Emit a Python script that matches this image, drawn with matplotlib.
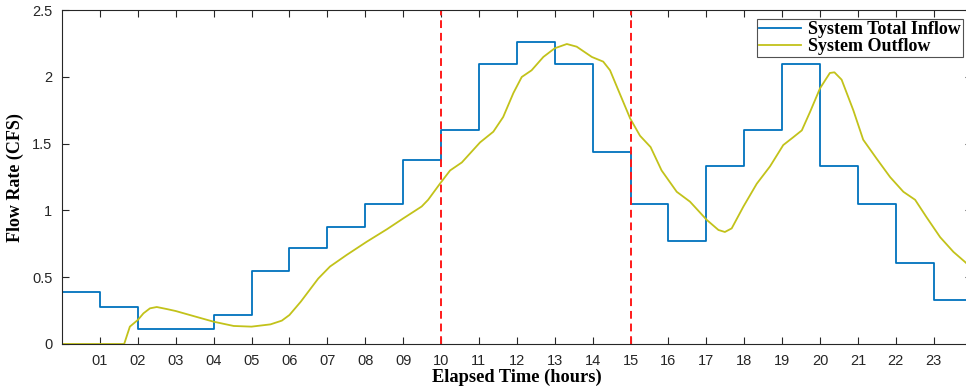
import numpy as np
import matplotlib.pyplot as plt

# hourly inflow steps (CFS), one value per hour 0-24
inflow_hours = list(range(0, 25))
inflow_vals = [0.39, 0.28, 0.11, 0.11, 0.22, 0.55, 0.72, 0.88, 1.05, 1.38,
               1.60, 2.10, 2.26, 2.10, 1.44, 1.05, 0.77, 1.33, 1.60, 2.10,
               1.33, 1.05, 0.61, 0.33, 0.33]

# outflow
outflow_t = [0, 1.0, 1.64, 1.79, 2.0, 2.15, 2.32, 2.5, 2.76, 3.0, 3.46, 4.0,
             4.53, 5.0, 5.5, 5.8, 6.0, 6.3, 6.76, 7.07, 7.51, 8.04, 8.57, 9.0,
             9.49, 9.66, 9.97, 10.24, 10.55, 11.03, 11.38, 11.64, 11.91, 12.13,
             12.39, 12.70, 13.0, 13.32, 13.58, 13.98, 14.28, 14.46, 14.68, 14.99,
             15.25, 15.53, 15.82, 16.22, 16.57, 17.01, 17.32, 17.49, 17.67,
             17.98, 18.33, 18.68, 19.03, 19.30, 19.52, 19.74, 20.0, 20.26, 20.38,
             20.57, 20.88, 21.14, 21.49, 21.85, 22.20, 22.51, 22.81, 23.17,
             23.52, 23.82, 24.0]
outflow_vals = [0, 0, 0, 0.13, 0.18, 0.23, 0.267, 0.277, 0.262, 0.247, 0.21,
                0.167, 0.135, 0.13, 0.147, 0.175, 0.217, 0.317, 0.49, 0.58,
                0.667, 0.766, 0.859, 0.94, 1.03, 1.08, 1.20, 1.30, 1.36, 1.51,
                1.59, 1.70, 1.88, 2.00, 2.05, 2.15, 2.215, 2.247, 2.227, 2.15,
                2.115, 2.05, 1.90, 1.69, 1.56, 1.475, 1.30, 1.14, 1.066, 0.93,
                0.854, 0.839, 0.866, 1.03, 1.20, 1.33, 1.49, 1.55, 1.60, 1.74,
                1.915, 2.03, 2.035, 1.98, 1.75, 1.53, 1.39, 1.25, 1.14, 1.08,
                0.95, 0.80, 0.69, 0.616, 0.57]

xtick_pos = list(range(1, 24))
xtick_labels = ["%02d" % h for h in xtick_pos]
marker_hours = [10, 15]

fig = plt.figure(figsize=(9.66, 3.89), dpi=100)
ax = fig.add_axes([0.0642, 0.1157, 0.9416, 0.858])

ax.step(inflow_hours, inflow_vals, where='post', color='#0072BD', lw=1.3,
        label='System Total Inflow')
ax.plot(outflow_t, outflow_vals, color='#C2C21A', lw=1.3, label='System Outflow')
for h in marker_hours:
    ax.axvline(h, color='#FF1A1A', ls=(0, (4, 2.5)), lw=1.4)

ax.set_xlim(0, 24)
ax.set_ylim(0, 2.5)
ax.set_xticks(xtick_pos)
ax.set_xticklabels(xtick_labels, family='Liberation Sans')
ax.set_yticks([0, 0.5, 1, 1.5, 2, 2.5])
ax.set_yticklabels(['0', '0.5', '1', '1.5', '2', '2.5'], family='Liberation Sans')
ax.tick_params(direction='in', top=True, right=True, length=5, width=0.8,
               labelsize=10.5, colors='#262626', pad=7)
for s in ax.spines.values():
    s.set_color('#262626')
    s.set_linewidth(0.8)

ax.set_xlabel('Elapsed Time (hours)', family='Liberation Serif', weight='bold',
              fontsize=13.2, labelpad=1)
ax.set_ylabel('Flow Rate (CFS)', family='Liberation Serif', weight='bold',
              fontsize=13, labelpad=6)

leg = ax.legend(loc='upper right', bbox_to_anchor=(0.9905, 0.974),
                prop={'family': 'Liberation Serif', 'weight': 'bold', 'size': 13},
                frameon=True, fancybox=False, handlelength=2.3, borderpad=0.12,
                labelspacing=0.0, handletextpad=0.4, borderaxespad=0.0)
leg.get_frame().set_edgecolor('#262626')
leg.get_frame().set_linewidth(0.8)

fig.savefig('out.png', dpi=100)
